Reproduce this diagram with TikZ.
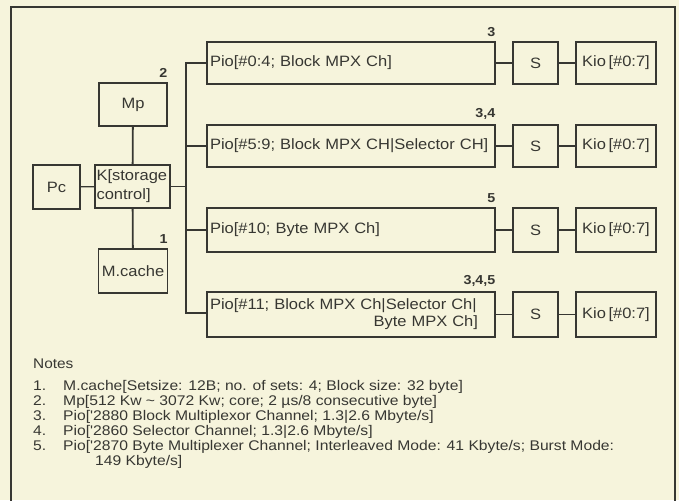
\documentclass[tikz,border=0pt]{standalone}
\usepackage{fontspec}
\setmainfont{Liberation Sans}
\newfontfamily\boxfont[FakeStretch=1.1]{Liberation Sans}
\newfontfamily\notefont[FakeStretch=1.12]{Liberation Sans}
\definecolor{bg}{RGB}{246,244,220}
\definecolor{ink}{RGB}{55,55,50}
\begin{document}
\begin{tikzpicture}[x=1pt,y=-1pt,
  box/.style={draw=ink, line width=1.1pt, inner sep=3pt, text=ink,
    font=\boxfont\fontsize{15}{18}\selectfont},
  piobox/.style={box, minimum width=288pt, text width=282pt, align=left},
  conn/.style={draw=ink, line width=1.8pt},
  num/.style={anchor=south east, inner sep=0pt, text=ink,
    font=\boxfont\fontsize{13}{15}\selectfont\bfseries},
  note/.style={anchor=base west, inner sep=0pt, text=ink,
    font=\notefont\fontsize{14}{15}\selectfont}]
\fill[bg] (0,0) rectangle (679,500);
\useasboundingbox (0,0) rectangle (679,500);
\draw[ink, line width=1.1pt] (11,510) -- (11,7) -- (675,7) -- (675,510);

% left group
\node[box, minimum width=47pt, minimum height=44pt] (Pc) at (56.5,187) {Pc};
\node[box, minimum width=75pt, minimum height=43pt, text width=72pt, align=left,
  inner sep=1.5pt, font=\boxfont\fontsize{15}{19}\selectfont] (K) at (132.5,186.5) {K[storage\\control]};
\node[box, minimum width=68pt, minimum height=43pt] (Mp) at (133,104.5) {Mp};
\node[box, minimum width=68pt, minimum height=44pt] (Mc) at (133,271) {M.cache};

% Pio boxes
\node[piobox, minimum height=42pt] (P1) at (351,63) {Pio[\#0:4; Block MPX Ch]};
\node[piobox, minimum height=42pt] (P2) at (351,146) {Pio[\#5:9; Block MPX CH|Selector CH]};
\node[piobox, minimum height=44pt] (P3) at (351,230) {Pio[\#10; Byte MPX Ch]};
\node[piobox, minimum height=45pt, font=\boxfont\fontsize{15}{17}\selectfont] (P4) at (351,314.5)
  {Pio[\#11; Block MPX Ch|Selector Ch|\\\makebox[268pt][r]{Byte MPX Ch]}};

% S and Kio
\foreach \i/\y/\h in {1/63/42, 2/146/42, 3/230/44, 4/314.5/45}{
  \node[box, minimum width=45pt, minimum height=\h pt] (S\i) at (535.5,\y) {S};
  \node[box, minimum width=80pt, minimum height=\h pt, inner sep=1pt] (Kio\i) at (616,\y) {Kio\,[\#0:7]};
}

% numbers
\node[num] (n2) at ([yshift=5pt]Mp.north east) {2};
\node[num] (n1) at ([yshift=5pt]Mc.north east) {1};
\node[num] (n3) at ([yshift=5pt]P1.north east) {3};
\node[num] (n34) at ([yshift=5pt]P2.north east) {3,4};
\node[num] (n5) at ([yshift=5pt]P3.north east) {5};
\node[num] (n345) at ([yshift=5pt]P4.north east) {3,4,5};

% connectors
\coordinate (bt) at (186,63);
\coordinate (bb) at (186,313);
\draw[conn, line width=1.2pt] (Pc) -- (K);
\draw[conn] (K) -- (Mp);
\draw[conn] (K) -- (Mc);
\draw[conn] (K.east) -- (K.east -| bt);
\draw[conn] (P1.west) -- (bt) -- (bb) -- (bb -| P4.west);
\draw[conn] (P2.west) -- (P2.west -| bt);
\draw[conn] (P3.west) -- (P3.west -| bt);
\foreach \i in {1,2,3,4}{
  \draw[conn] (P\i.east |- S\i.west) -- (S\i.west);
  \draw[conn] (S\i.east) -- (Kio\i.west);
}

% notes
\node[note, font=\boxfont\fontsize{14}{16}\selectfont] (notes) at (33,368) {Notes};
\node[note] (m1) at (33,390) {1.};
\node[note] (t1) at (63,390) {M.cache[Setsize: 12B; no. of sets: 4; Block size: 32 byte]};
\node[note] (m2) at (33,405) {2.};
\node[note] (t2) at (63,405) {Mp[512 Kw \textasciitilde{} 3072 Kw; core; 2 \textmu s/8 consecutive byte]};
\node[note] (m3) at (33,420) {3.};
\node[note] (t3) at (63,420) {Pio['2880 Block Multiplexor Channel; 1.3|2.6 Mbyte/s]};
\node[note] (m4) at (33,435) {4.};
\node[note] (t4) at (63,435) {Pio['2860 Selector Channel; 1.3|2.6 Mbyte/s]};
\node[note] (m5) at (33,450) {5.};
\node[note] (t5) at (63,450) {Pio['2870 Byte Multiplexer Channel; Interleaved Mode: 41 Kbyte/s; Burst Mode:};
\node[note] (t6) at (95,465) {149 Kbyte/s]};
\end{tikzpicture}
\end{document}
